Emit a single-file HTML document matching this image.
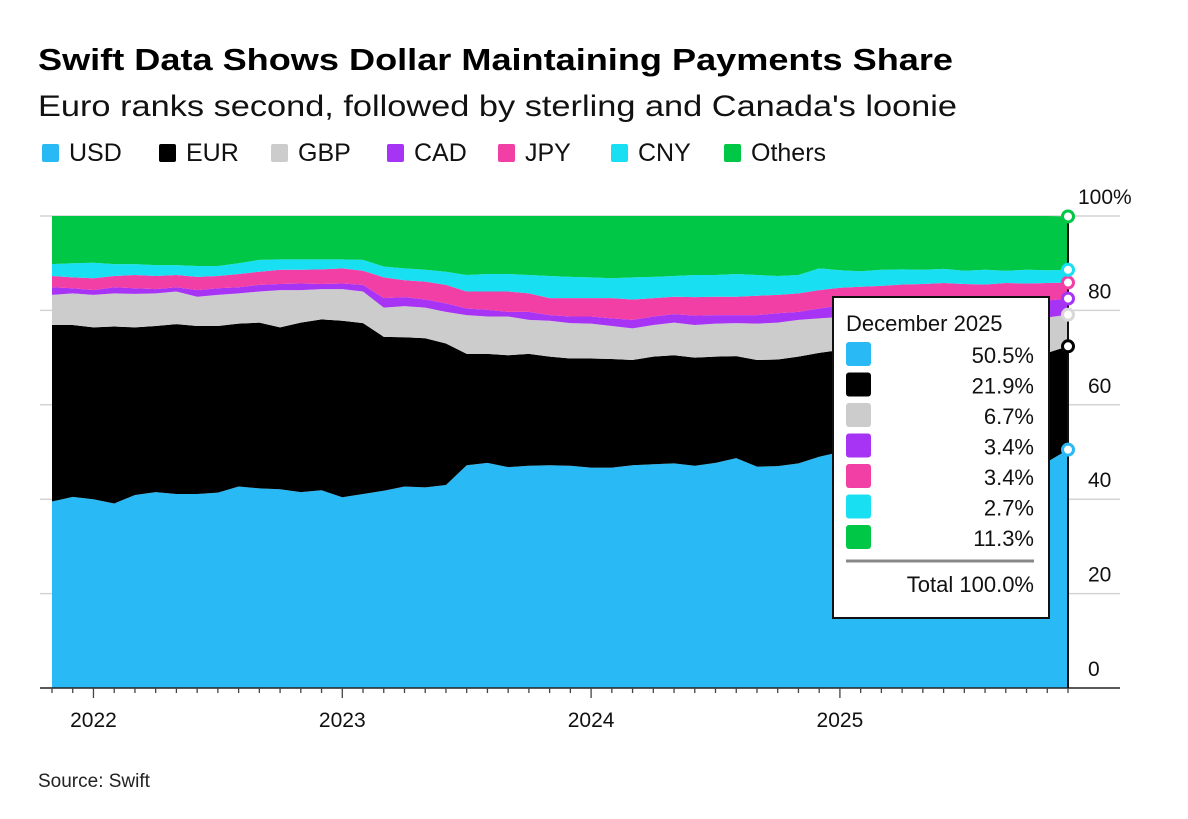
<!DOCTYPE html>
<html><head><meta charset="utf-8"><style>
html,body{margin:0;padding:0;background:#fff;}
svg{display:block;font-family:"Liberation Sans",sans-serif;}
</style></head><body>
<svg id="chart" width="1188" height="819" viewBox="0 0 1188 819">
<text x="38" y="70" font-size="31" font-weight="bold" textLength="915" lengthAdjust="spacingAndGlyphs">Swift Data Shows Dollar Maintaining Payments Share</text>
<text x="38" y="116" font-size="30" fill="#111" textLength="919" lengthAdjust="spacingAndGlyphs">Euro ranks second, followed by sterling and Canada's loonie</text>
<g id="legend"></g>
<g id="grid"></g>
<g id="areas"></g>
<g id="axes"></g>
<g id="markers"></g>
<g id="tip"></g>
<text x="38" y="787" font-size="19" fill="#222">Source: Swift</text>
</svg>
<script>
const seriesNames = ["USD","EUR","GBP","CAD","JPY","CNY","Others"];
const seriesColors = ["#29b9f5","#000000","#cccccc","#a733f5","#f23fa5","#18e0f2","#00c846"];
const startYear = 2021, startMonth = 10; // Nov 2021 (0-based month)
const usd = [39.5,40.5,40.0,39.1,40.9,41.5,41.1,41.1,41.4,42.7,42.3,42.1,41.5,41.9,40.4,41.1,41.8,42.7,42.5,43.0,47.2,47.7,46.8,47.1,47.2,47.1,46.7,46.7,47.2,47.4,47.6,47.1,47.7,48.7,46.9,47.0,47.6,49.0,50.0,49.5,48.8,49.2,49.6,50.0,49.0,48.6,49.0,48.5,47.9,50.5];
const eur = [37.4,36.4,36.4,37.5,35.5,35.2,36.0,35.6,35.3,34.5,35.1,34.3,35.9,36.2,37.4,36.2,32.6,31.6,31.6,30.0,23.6,23.1,23.7,23.7,23.0,22.7,23.1,23.0,22.3,22.8,22.9,22.9,22.5,21.6,22.6,22.6,22.6,22.0,21.6,22.0,22.2,22.1,21.9,21.8,22.2,22.4,22.4,22.7,23.1,21.9];
const gbp = [6.4,6.7,6.9,7.0,7.1,6.9,6.9,6.2,6.6,6.4,6.6,7.9,6.9,6.4,6.7,6.7,6.2,6.6,6.5,6.7,8.2,7.9,8.2,7.2,7.6,7.5,7.4,7.0,6.7,6.7,6.9,6.9,7.0,7.0,7.7,7.8,7.8,7.3,7.0,6.9,7.2,7.2,7.1,7.0,7.2,7.2,7.2,7.3,7.5,6.7];
const cad = [1.6,1.1,1.0,1.3,1.2,0.9,0.9,1.4,1.4,1.3,1.4,1.3,1.4,1.1,1.2,1.4,2.0,1.9,1.7,1.8,1.4,1.4,1.0,1.7,1.2,1.4,1.5,1.6,1.8,1.8,1.8,2.0,1.8,1.7,1.8,2.0,1.7,2.1,2.4,2.8,2.8,2.8,2.9,3.0,3.2,3.3,3.3,3.5,3.6,3.4];
const jpy = [2.4,2.3,2.5,2.4,2.8,2.8,2.6,2.8,2.6,2.8,2.8,3.0,2.9,3.1,3.2,3.0,4.4,3.6,3.8,3.9,3.6,3.9,4.3,3.9,3.6,3.9,3.9,4.3,4.3,3.9,3.7,3.9,3.9,3.9,4.1,3.9,3.9,3.9,3.8,3.8,4.2,4.2,4.1,4.0,4.0,4.0,3.9,3.7,3.7,3.4];
const cny = [2.5,3.0,3.3,2.5,2.3,2.3,2.1,2.3,2.1,2.3,2.5,2.2,2.2,2.1,1.9,2.3,2.3,2.5,2.5,2.8,3.5,3.7,3.7,3.9,4.7,4.5,4.4,4.2,4.7,4.5,4.4,4.7,4.6,4.8,4.4,4.0,3.9,4.6,3.7,3.3,3.4,3.2,3.0,3.0,2.8,3.1,2.6,2.9,2.7,2.7];
const others = [10.2,10.0,9.9,10.2,10.2,10.4,10.4,10.6,10.6,10.0,9.3,9.2,9.2,9.2,9.2,9.3,10.7,11.1,11.4,11.8,12.5,12.3,12.3,12.5,12.7,12.9,13.0,13.2,13.0,12.9,12.7,12.5,12.5,12.3,12.5,12.7,12.5,11.1,11.5,11.7,11.4,11.3,11.4,11.2,11.6,11.4,11.6,11.4,11.5,11.3];
const yTicks = [0,20,40,60,80,100];
const yTickLabels = ["0","20","40","60","80","100%"];
const yearLabels = ["2022","2023","2024","2025"];
const tipTitle = "December 2025";
const tipValues = ["50.5%","21.9%","6.7%","3.4%","3.4%","2.7%","11.3%"];
const tipTotal = "Total 100.0%";

const NS="http://www.w3.org/2000/svg";
function mk(tag,attrs,parent,txt){const e=document.createElementNS(NS,tag);for(const k in attrs)e.setAttribute(k,attrs[k]);if(txt!==undefined)e.textContent=txt;parent.appendChild(e);return e;}
const series=[usd,eur,gbp,cad,jpy,cny,others];
const n=usd.length;
const X0=52, X1=1068, Y0=688, Y100=216;
const xs=i=>X0+(X1-X0)*i/(n-1);
const ys=v=>Y0-(Y0-Y100)*v/100;
const monthX=(y,m)=>xs((y-startYear)*12+(m-startMonth));

// legend
const leg=document.getElementById('legend');
const legX=[42,159,271,387,498,611,724];
seriesNames.forEach((nm,i)=>{
  const g=mk('g',{},leg);
  
  
  mk('rect',{x:legX[i],y:144,width:17,height:18,rx:2,fill:seriesColors[i]},g);
  mk('text',{x:legX[i]+27,y:161,'font-size':25,fill:'#111'},g,nm);
});

// grid
const grid=document.getElementById('grid');
yTicks.forEach((t,i)=>{
  if(t>0){const l=mk('line',{x1:40,x2:1120,y1:ys(t),y2:ys(t),stroke:'#d4d4d4','stroke-width':1.5},grid);
  
  }
  const tx=mk('text',{x:t===100?1078:1088,y:ys(t)-12,'font-size':21,fill:'#111'},grid,yTickLabels[i]);
  
  
});

// areas
const areas=document.getElementById('areas');
let base=new Array(n).fill(0);
series.forEach((s,si)=>{
  const top=base.map((b,i)=>b+s[i]);
  let d='M'+xs(0)+','+ys(top[0]);
  for(let i=1;i<n;i++)d+='L'+xs(i)+','+ys(top[i]);
  for(let i=n-1;i>=0;i--)d+='L'+xs(i)+','+ys(base[i]);
  d+='Z';
  const p=mk('path',{d:d,fill:seriesColors[si]},areas);
  
  
  base=top;
});

// axes
const ax=document.getElementById('axes');
mk('line',{x1:40,x2:1120,y1:Y0,y2:Y0,stroke:'#222','stroke-width':1.5},ax);
mk('line',{x1:X1,x2:X1,y1:Y100,y2:Y0,stroke:'#111','stroke-width':2},ax);
for(let i=0;i<n;i++){
  const m=(startMonth+i)%12;
  mk('line',{x1:xs(i),x2:xs(i),y1:Y0,y2:Y0+(m===0?10:5),stroke:'#444','stroke-width':1.3},ax);
}
yearLabels.forEach(y=>{
  const t=mk('text',{x:monthX(+y,0),y:727,'font-size':21,'text-anchor':'middle',fill:'#111'},ax,y);
  
  
});

// markers
const mkr=document.getElementById('markers');
let cum=0;
series.forEach((s,si)=>{
  cum+=s[n-1];
  const c=mk('circle',{cx:xs(n-1),cy:ys(cum),r:5.5,fill:'#fff',stroke:seriesColors[si]==='#cccccc'?'#d8d8d8':seriesColors[si],'stroke-width':3},mkr);
  
  
});

// tooltip box
const tip=document.getElementById('tip');
mk('rect',{x:833,y:297,width:216,height:321,fill:'#fff',stroke:'#111','stroke-width':2},tip);
mk('text',{x:846,y:331,'font-size':22,fill:'#111'},tip,tipTitle);
tipValues.forEach((v,i)=>{
  const y=342+i*30.5;
  mk('rect',{x:846,y:y,width:25,height:24,rx:3,fill:seriesColors[i]},tip);
  mk('text',{x:1034,y:y+21,'font-size':22,'text-anchor':'end',fill:'#111'},tip,v);
});
mk('line',{x1:846,x2:1034,y1:561,y2:561,stroke:'#888','stroke-width':3},tip);
mk('text',{x:1034,y:592,'font-size':22,'text-anchor':'end',fill:'#111'},tip,tipTotal);
</script>
</body></html>
